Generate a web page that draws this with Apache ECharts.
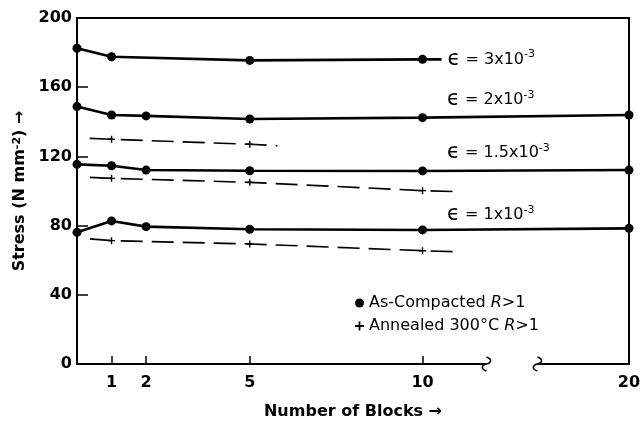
<!DOCTYPE html>
<html>
<head>
<meta charset="utf-8">
<script src="https://cdn.jsdelivr.net/npm/echarts@6/dist/echarts.min.js"></script>
<style>
  html, body { margin: 0; padding: 0; background: #fff; }
  #chart { width: 641px; height: 422px; }
</style>
</head>
<body>
<div id="chart"></div>
<script>
// Number of blocks (x) and flow stress in N mm^-2 (y)
const blockTickValues = [1, 2, 5, 10, 20];
const blockTickMarks = [1, 2, 5, 10];
const stressMin = 0, stressMax = 200, stressStep = 40;

// As-compacted, R > 1
const compacted3Blocks = [0, 1, 5, 10, 10.55];
const compacted3Stress = [182.5, 177.6, 175.5, 176.1, 176.1];
const compacted2Blocks = [0, 1, 2, 5, 10, 20];
const compacted2Stress = [148.8, 143.9, 143.4, 141.6, 142.4, 143.9];
const compacted15Blocks = [0, 1, 2, 5, 10, 20];
const compacted15Stress = [115.4, 114.6, 112.1, 111.7, 111.6, 112.1];
const compacted1Blocks = [0, 1, 2, 5, 10, 20];
const compacted1Stress = [76.1, 82.7, 79.4, 77.9, 77.5, 78.4];

// Annealed 300°C, R > 1
const annealed2Blocks = [0.37, 1, 5, 5.8];
const annealed2Stress = [130.4, 129.9, 127.0, 126.2];
const annealed15Blocks = [0.37, 1, 5, 10, 11.0];
const annealed15Stress = [107.9, 107.3, 105.0, 100.2, 99.6];
const annealed1Blocks = [0.37, 1, 5, 10, 11.0];
const annealed1Stress = [72.3, 71.3, 69.4, 65.5, 64.9];

// Strain labels (x10^-3)
const strainLabels = ['3', '2', '1.5', '1'];

// Collapsed stretch of the block axis
const axisBreakStart = 11.85, axisBreakEnd = 17.35, axisBreakGap = 1.475;

const FONT = '"DejaVu Sans", "Liberation Sans", Arial, sans-serif';
const PLUS = 'path://M4,0h2v4h4v2h-4v4h-2v-4h-4v-2h4z';

const strainRich = {
  eps: { fontSize: 21, fontFamily: FONT, color: '#000' },
  sup: { fontSize: 11, fontFamily: FONT, color: '#000', verticalAlign: 'top', lineHeight: 8 }
};

function strainText(s) {
  return '{eps|\u03F5} = ' + s + 'x10{sup|-3}';
}

// x/y pairs; markers drawn only where a reading was taken
function points(xs, ys, markerXs) {
  return xs.map((x, i) => markerXs.includes(x) ? [x, ys[i]] : { value: [x, ys[i]], symbol: 'none' });
}

function withLabel(data, xs, atX, label) {
  const i = xs.indexOf(atX);
  const d = data[i];
  data[i] = { value: Array.isArray(d) ? d : d.value, label: label };
  return data;
}

function strainLabel(s, dy) {
  return {
    show: true, position: 'right', align: 'left', distance: 5, offset: [15, dy],
    formatter: strainText(s), fontSize: 16, fontFamily: FONT, color: '#000', rich: strainRich
  };
}

function compactedSeries(data) {
  return {
    name: 'As-Compacted', type: 'line', data: data,
    symbol: 'circle', symbolSize: 9,
    lineStyle: { color: '#000', width: 2.6 },
    itemStyle: { color: '#000' },
    label: { show: false }, z: 3, animation: false
  };
}

function annealedSeries(data) {
  return {
    name: 'Annealed', type: 'line', data: data,
    symbol: PLUS, symbolSize: 7,
    lineStyle: { color: '#000', width: 1.6, type: [22, 9] },
    itemStyle: { color: '#000' }, z: 2, animation: false
  };
}

const c3 = points(compacted3Blocks, compacted3Stress, [0, 1, 5, 10]);
const s3 = compactedSeries(c3);
s3.endLabel = {
  show: true, distance: 6, formatter: strainText(strainLabels[0]),
  fontSize: 16, fontFamily: FONT, color: '#000', rich: strainRich
};

const series = [
  s3,
  compactedSeries(withLabel(points(compacted2Blocks, compacted2Stress, compacted2Blocks), compacted2Blocks, 10, strainLabel(strainLabels[1], -18))),
  compactedSeries(withLabel(points(compacted15Blocks, compacted15Stress, compacted15Blocks), compacted15Blocks, 10, strainLabel(strainLabels[2], -18))),
  compactedSeries(withLabel(points(compacted1Blocks, compacted1Stress, compacted1Blocks), compacted1Blocks, 10, strainLabel(strainLabels[3], -15))),
  annealedSeries(points(annealed2Blocks, annealed2Stress, [1, 5])),
  annealedSeries(points(annealed15Blocks, annealed15Stress, [1, 5, 10])),
  annealedSeries(points(annealed1Blocks, annealed1Stress, [1, 5, 10]))
];

const chart = echarts.init(document.getElementById('chart'), null, { renderer: 'canvas' });

const axisLineStyle = { color: '#000', width: 2 };
const boldText = { fontSize: 16, fontWeight: 'bold', fontFamily: FONT, color: '#000' };

chart.setOption({
  animation: false,
  backgroundColor: '#fff',
  textStyle: { fontFamily: FONT },
  grid: { left: 77, top: 18, right: 12, bottom: 58, containLabel: false, outerBoundsMode: 'none' },
  xAxis: [{
    type: 'value', min: 0, max: 20,
    breaks: [{ start: axisBreakStart, end: axisBreakEnd, gap: axisBreakGap }],
    breakArea: {
      show: true,
      itemStyle: { color: 'rgba(0,0,0,0)', borderColor: 'rgba(0,0,0,0)', borderWidth: 0 },
      expandOnClick: false
    },
    // the bottom line is drawn in two pieces around the break (see below)
    axisLine: { show: false },
    axisTick: { show: true, inside: true, length: 8, customValues: blockTickMarks, lineStyle: { color: '#000', width: 1.5 } },
    axisLabel: Object.assign({ show: true, customValues: blockTickValues, margin: 11 }, boldText),
    splitLine: { show: false },
    name: 'Number of Blocks \u2192', nameLocation: 'middle', nameGap: 40,
    nameTextStyle: boldText
  }, {
    type: 'value', min: 0, max: 20, position: 'top',
    axisLine: { show: true, onZero: false, lineStyle: axisLineStyle },
    axisTick: { show: false }, axisLabel: { show: false }, splitLine: { show: false }
  }],
  yAxis: [{
    type: 'value', min: stressMin, max: stressMax, interval: stressStep,
    axisLine: { show: true, onZero: false, lineStyle: axisLineStyle },
    axisTick: { show: true, inside: true, length: 11, lineStyle: { color: '#000', width: 1.5 } },
    axisLabel: Object.assign({ margin: 5 }, boldText),
    splitLine: { show: false },
    name: 'Stress (N mm{sup|-2}) \u2192', nameLocation: 'middle', nameGap: 46, nameRotate: 90,
    nameTextStyle: Object.assign({
      rich: { sup: { fontSize: 11, fontWeight: 'bold', fontFamily: FONT, color: '#000', verticalAlign: 'top', lineHeight: 8 } }
    }, boldText)
  }, {
    type: 'value', min: stressMin, max: stressMax, position: 'right',
    axisLine: { show: true, onZero: false, lineStyle: axisLineStyle },
    axisTick: { show: false }, axisLabel: { show: false }, splitLine: { show: false }
  }],
  legend: {
    orient: 'vertical', left: 350, top: 290, itemGap: 7,
    itemWidth: 9, itemHeight: 9, selectedMode: false,
    data: [
      { name: 'As-Compacted', icon: 'circle' },
      { name: 'Annealed', icon: PLUS }
    ],
    formatter: function (name) {
      return name === 'As-Compacted' ? 'As-Compacted {it|R}>1' : 'Annealed 300\u00B0C {it|R}>1';
    },
    textStyle: {
      fontSize: 16, fontFamily: FONT, color: '#000',
      rich: { it: { fontSize: 16, fontStyle: 'italic', fontFamily: FONT, color: '#000' } }
    }
  },
  series: series
});

// Bottom axis in two pieces, with a wavy mark at each end of the collapsed stretch
(function drawBrokenAxis() {
  const y0 = chart.convertToPixel({ yAxisIndex: 0 }, stressMin);
  const xStart = chart.convertToPixel({ xAxisIndex: 0 }, 0);
  const xEnd = chart.convertToPixel({ xAxisIndex: 0 }, 20);
  const xa = chart.convertToPixel({ xAxisIndex: 0 }, axisBreakStart);
  const xb = chart.convertToPixel({ xAxisIndex: 0 }, axisBreakEnd);
  const stroke = { stroke: '#000', lineWidth: 2, fill: null };
  const thin = Object.assign({}, stroke, { lineWidth: 1.5 });
  const wave = (x) => [
    { type: 'bezierCurve', z: 11, shape: { x1: x, y1: y0 - 7, cpx1: x + 6, cpy1: y0 - 5, cpx2: x + 5, cpy2: y0 - 1, x2: x, y2: y0 }, style: thin },
    { type: 'bezierCurve', z: 11, shape: { x1: x, y1: y0, cpx1: x - 5, cpy1: y0 + 1, cpx2: x - 6, cpy2: y0 + 5, x2: x, y2: y0 + 7 }, style: thin }
  ];
  chart.setOption({
    graphic: [
      { type: 'line', z: 11, shape: { x1: xStart - 1, y1: y0, x2: xa, y2: y0 }, style: stroke },
      { type: 'line', z: 11, shape: { x1: xb, y1: y0, x2: xEnd + 1, y2: y0 }, style: stroke }
    ].concat(wave(xa), wave(xb))
  });
})();
</script>
</body>
</html>
